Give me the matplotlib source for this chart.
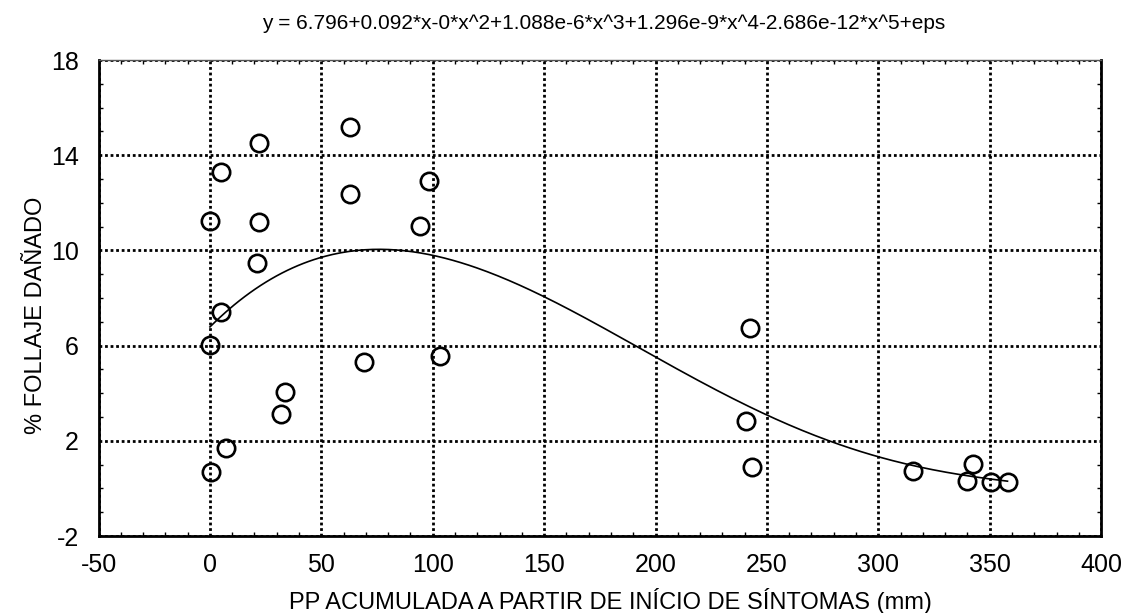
import numpy as np
import matplotlib
matplotlib.use("Agg")
import matplotlib.pyplot as plt
from matplotlib.ticker import MultipleLocator

plt.rcParams['font.family'] = ['Liberation Sans', 'DejaVu Sans']
plt.rcParams['axes.unicode_minus'] = False

# lluvia acumulada (mm) y % de follaje dañado
pp = [63.0, 22.1, 4.8, 98.5, 62.7, 0.0, 22.1, 94.4, 21.2, 4.8,
      0.0, 69.1, 103.4, 33.5, 31.9, 7.2, 0.6,
      242.4, 240.5, 243.3, 315.4, 342.3, 340.0, 350.5, 358.0]
dano = [15.2, 14.5, 13.3, 12.93, 12.36, 11.24, 11.2, 11.04, 9.46, 7.42,
        6.01, 5.32, 5.56, 4.05, 3.13, 1.71, 0.68,
        6.73, 2.85, 0.91, 0.74, 1.01, 0.32, 0.28, 0.26]

xticks = [-50, 0, 50, 100, 150, 200, 250, 300, 350, 400]
yticks = [-2, 2, 6, 10, 14, 18]

titulo = "y = 6.796+0.092*x-0*x^2+1.088e-6*x^3+1.296e-9*x^4-2.686e-12*x^5+eps"

fig = plt.figure(figsize=(11.3, 6.13), dpi=100)
ax = fig.add_axes([0.0872, 0.1256, 0.8872, 0.7764])

# ajuste polinomial de grado 5
coef = np.polyfit(pp, dano, 5)
xs = np.linspace(min(pp), max(pp), 300)
ax.plot(xs, np.polyval(coef, xs), color="black", lw=1.2, zorder=3)

ax.plot(pp, dano, "o", mfc="none", mec="black", ms=12.5, mew=1.9, zorder=4)

ax.set_xlim(-50, 400)
ax.set_ylim(-2, 18)
ax.set_xticks(xticks)
ax.set_yticks(yticks)
ax.xaxis.set_minor_locator(MultipleLocator(10))
ax.yaxis.set_minor_locator(MultipleLocator(1))
ax.tick_params(which="both", direction="in", top=True, right=True, labelsize=18)
ax.tick_params(axis="x", which="major", length=0, pad=12)
ax.tick_params(axis="y", which="major", length=0, pad=14)
ax.tick_params(which="minor", length=3, width=1)
ax.grid(True, which="major", color="black", linestyle=(0, (1, 1)), lw=2)

for s in ["left", "bottom", "right"]:
    ax.spines[s].set_linewidth(2)
ax.spines["top"].set_linewidth(1)
ax.spines["top"].set_color("#555555")

fig.text(0.540, 1 - 601 / 613, "PP ACUMULADA A PARTIR DE INÍCIO DE SÍNTOMAS (mm)",
         ha="center", va="center", fontsize=17)
fig.text(36 / 1130, 1 - 315 / 613, "% FOLLAJE DAÑADO", rotation=90,
         ha="center", va="center", fontsize=17)
fig.text(0.534, 0.962, titulo, ha="center", va="center", fontsize=15)

fig.savefig("out.png", dpi=100)
